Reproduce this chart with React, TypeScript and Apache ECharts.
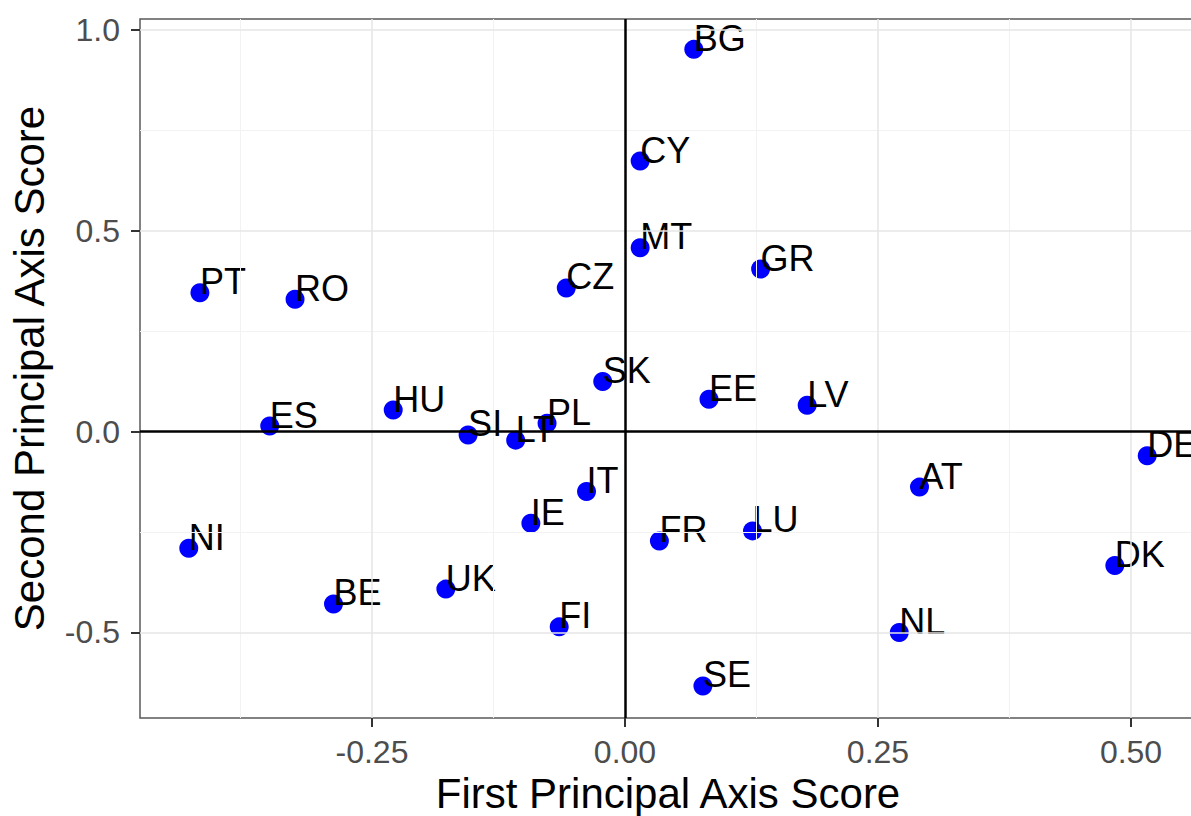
import React, { useEffect, useRef } from "react";
import * as echarts from "echarts";

const countries = ["BG","CY","MT","GR","CZ","PT","RO","SK","EE","LV","HU","ES","SI","LT","PL","DE","AT","IT","IE","LU","FR","NI","DK","UK","BE","FI","NL","SE"];
const firstAxis = [0.068,0.015,0.015,0.134,-0.058,-0.420,-0.326,-0.022,0.083,0.180,-0.229,-0.351,-0.155,-0.108,-0.077,0.516,0.291,-0.038,-0.093,0.126,0.034,-0.431,0.484,-0.177,-0.288,-0.065,0.271,0.077];
const secondAxis = [0.952,0.674,0.458,0.405,0.358,0.346,0.330,0.125,0.081,0.066,0.054,0.014,-0.008,-0.021,0.021,-0.060,-0.138,-0.149,-0.228,-0.247,-0.272,-0.290,-0.333,-0.392,-0.429,-0.486,-0.500,-0.633];

const xTicks = [-0.25, 0, 0.25, 0.5];
const yTicks = [-0.5, 0, 0.5, 1.0];
const xMajorGrid = [-0.25, 0.25, 0.5];
const xMinorGrid = [-0.375, -0.125, 0.125, 0.375];
const yMajorGrid = [-0.5, 0.5, 1.0];
const yMinorGrid = [-0.25, 0.25, 0.75];
const xRange = [-0.4792, 0.5642];
const yRange = [-0.7129, 1.0276];

const FONT = "'Liberation Sans', Arial, Helvetica, sans-serif";

export default function App() {
  const ref = useRef<HTMLDivElement>(null);
  useEffect(() => {
    if (!ref.current) return;
    const chart = echarts.init(ref.current, null, { renderer: "svg" });
    const points = countries.map((c, i) => ({ name: c, value: [firstAxis[i], secondAxis[i]] }));
    const gridLine = (axis: "xAxis" | "yAxis", v: number, color: string, width: number) => ({
      [axis]: v,
      lineStyle: { color, width, type: "solid" },
    });
    chart.setOption({
      animation: false,
      backgroundColor: "#ffffff",
      grid: {
        left: 140,
        top: 19,
        width: 1056,
        height: 699,
        outerBoundsMode: "none",
        containLabel: false,
        show: true,
        borderColor: "#5a5a5a",
        borderWidth: 1.5,
        backgroundColor: "transparent",
      },
      xAxis: {
        type: "value",
        min: xRange[0],
        max: xRange[1],
        name: "First Principal Axis Score",
        nameLocation: "middle",
        nameGap: 53,
        nameTextStyle: { fontSize: 42, color: "#000", fontFamily: FONT },
        axisLine: { show: false, onZero: false },
        axisTick: { show: true, length: 9, customValues: xTicks, lineStyle: { color: "#333", width: 2 } },
        axisLabel: {
          customValues: xTicks,
          fontSize: 32,
          color: "#4d4d4d",
          fontFamily: FONT,
          margin: 18,
          formatter: (v: number) => v.toFixed(2),
        },
        splitLine: { show: false },
      },
      yAxis: {
        type: "value",
        min: yRange[0],
        max: yRange[1],
        name: "Second Principal Axis Score",
        nameLocation: "middle",
        nameGap: 90,
        nameTextStyle: { fontSize: 42, color: "#000", fontFamily: FONT },
        axisLine: { show: false, onZero: false },
        axisTick: { show: true, length: 9, customValues: yTicks, lineStyle: { color: "#333", width: 2 } },
        axisLabel: {
          customValues: yTicks,
          fontSize: 32,
          color: "#4d4d4d",
          fontFamily: FONT,
          margin: 20,
          formatter: (v: number) => v.toFixed(1),
        },
        splitLine: { show: false },
      },
      series: [
        {
          type: "scatter",
          data: [],
          z: 1,
          silent: true,
          markLine: {
            silent: true,
            symbol: "none",
            label: { show: false },
            animation: false,
            data: [
              ...xMinorGrid.map((v) => gridLine("xAxis", v, "#f2f2f2", 1)),
              ...yMinorGrid.map((v) => gridLine("yAxis", v, "#f2f2f2", 1)),
              ...xMajorGrid.map((v) => gridLine("xAxis", v, "#e6e6e6", 1.5)),
              ...yMajorGrid.map((v) => gridLine("yAxis", v, "#e6e6e6", 1.5)),
            ],
          },
        },
        {
          type: "scatter",
          data: [],
          z: 2,
          silent: true,
          markLine: {
            silent: true,
            symbol: "none",
            label: { show: false },
            animation: false,
            data: [
              { xAxis: 0, lineStyle: { color: "#000", width: 2.5, type: "solid" } },
              { yAxis: 0, lineStyle: { color: "#000", width: 2.5, type: "solid" } },
            ],
          },
        },
        {
          type: "scatter",
          z: 3,
          symbol: "circle",
          symbolSize: 19,
          itemStyle: { color: "#0000ff", opacity: 1 },
          data: points,
          label: {
            show: true,
            formatter: "{b}",
            position: [9.5, -1.5],
            align: "left",
            verticalAlign: "middle",
            fontSize: 36,
            color: "#000",
            fontFamily: FONT,
          },
          labelLayout: { hideOverlap: false },
        },
      ],
    });
    return () => chart.dispose();
  }, []);
  return (
    <div
      ref={ref}
      style={{ position: "fixed", left: 0, top: 0, width: 1191, height: 816, background: "#fff" }}
    />
  );
}
